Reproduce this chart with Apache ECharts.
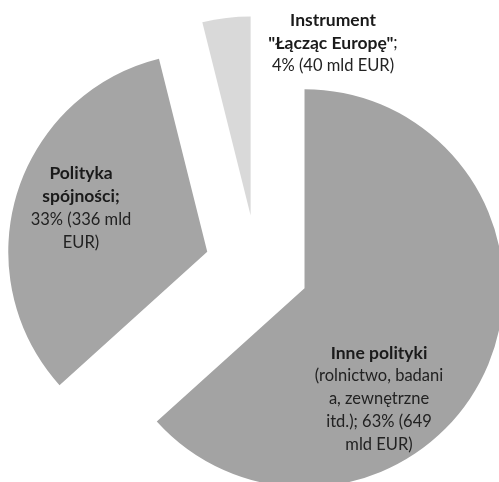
<!DOCTYPE html>
<html>
<head>
<meta charset="utf-8">
<script src="https://cdn.jsdelivr.net/npm/echarts@6/dist/echarts.min.js"></script>
<style>
  html, body { margin: 0; padding: 0; background: #fff; }
  #chart { width: 499px; height: 482px; }
</style>
</head>
<body>
<div id="chart"></div>
<script>
// dane
var names = ['Inne polityki (rolnictwo, badania, zewnętrzne itd.)', 'Polityka spójności', 'Instrument "Łącząc Europę"'];
var values = [649, 336, 40];          // mld EUR
// etykiety jak w oryginale (część pogrubiona / reszta)
var labelBold = [['Inne polityki'], ['Polityka', 'spójności;'], ['Instrument', '"Łącząc Europę"']];
var labelRest = [['(rolnictwo, badani', 'a, zewnętrzne', 'itd.); {d}% ({c}', 'mld EUR)'], ['{d}% ({c} mld', 'EUR)'], ['{d}% ({c} mld EUR)']];
var labelTail = ['', '', ';'];

// wygląd
var colors = ['#a3a3a3', '#a5a5a5', '#d9d9d9'];
var labelAnchors = [[379, 399], [81, 208], [333, 43]];

var myChart = echarts.init(document.getElementById('chart'));

var total = values.reduce(function (s, v) { return s + v; }, 0);

function buildLabel(i) {
    var lines = [];
    var bold = labelBold[i];
    for (var k = 0; k < bold.length; k++) {
        var line = '{b|' + bold[k] + '}';
        if (k === bold.length - 1 && labelTail[i]) line += '{n|' + labelTail[i] + '}';
        lines.push(line);
    }
    labelRest[i].forEach(function (t) {
        t = t.replace('{d}', Math.round(values[i] / total * 100)).replace('{c}', values[i]);
        lines.push('{n|' + t + '}');
    });
    return lines.join('\n');
}

var rich = {
    b: { fontFamily: 'Lato', fontWeight: 'bold', fontSize: 17.5, fill: '#1a1a1a', lineHeight: 23 },
    n: { fontFamily: 'Lato', fontSize: 16.5, fill: '#222', lineHeight: 23 }
};

var option = {
    backgroundColor: '#fff',
    animation: false,
    graphic: names.map(function (n, i) {
        return {
            type: 'text',
            x: labelAnchors[i][0],
            y: labelAnchors[i][1],
            z: 100,
            style: {
                text: buildLabel(i),
                rich: rich,
                align: 'center',
                verticalAlign: 'middle'
            }
        };
    }),
    series: [{
        type: 'pie',
        center: [257, 267],
        radius: [0, 199],
        startAngle: 90,
        clockwise: true,
        selectedMode: 'multiple',
        selectedOffset: 52,
        avoidLabelOverlap: false,
        label: { show: false },
        labelLine: { show: false },
        emphasis: { disabled: true },
        data: names.map(function (n, i) {
            return {
                name: n,
                value: values[i],
                selected: true,
                itemStyle: { color: colors[i], borderWidth: 0 },
                select: { itemStyle: { color: colors[i], borderWidth: 0 } }
            };
        })
    }]
};

myChart.setOption(option);
</script>
</body>
</html>
